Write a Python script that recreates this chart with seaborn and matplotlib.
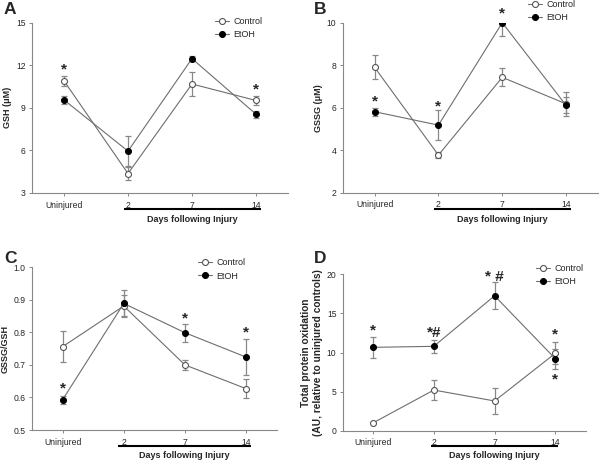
import numpy as np
import pandas as pd
import matplotlib
matplotlib.use("Agg")
import matplotlib.pyplot as plt
import matplotlib.transforms as mtransforms
import seaborn as sns

# values (mean, error)
days = ["Uninjured", "2", "7", "14"]

gsh_ctrl = [10.9, 4.37, 10.68, 9.52]
gsh_ctrl_err = [0.33, 0.47, 0.83, 0.3]
gsh_etoh = [9.56, 5.95, 12.47, 8.55]
gsh_etoh_err = [0.28, 1.08, 0.15, 0.25]

gssg_ctrl = [7.9, 3.77, 7.43, 6.18]
gssg_ctrl_err = [0.56, 0.15, 0.42, 0.58]
gssg_etoh = [5.81, 5.18, 10.0, 6.11]
gssg_etoh_err = [0.18, 0.7, 0.63, 0.38]

ratio_ctrl = [0.756, 0.881, 0.700, 0.627]
ratio_ctrl_err = [0.047, 0.035, 0.015, 0.03]
ratio_etoh = [0.593, 0.889, 0.799, 0.724]
ratio_etoh_err = [0.013, 0.04, 0.028, 0.056]

prot_ctrl = [1.0, 5.2, 3.8, 9.9]
prot_ctrl_err = [0.0, 1.3, 1.65, 1.4]
prot_etoh = [10.66, 10.79, 17.25, 9.2]
prot_etoh_err = [1.3, 0.8, 1.75, 1.3]

# significance marks: (day index, y, text)
stars_a = [(0, 11.73, "*"), (3, 10.32, "*")]
stars_b = [(0, 6.28, "*"), (1, 6.08, "*"), (2, 10.44, "*")]
stars_c = [(0, 0.627, "*"), (2, 0.842, "*"), (3, 0.80, "*")]
stars_d = [(0, 12.8, "*"), (1, 12.45, "*#"), (2, 19.7, "* #"), (3, 12.3, "*"), (3, 6.57, "*")]

sns.set_style("ticks")
plt.rcParams["font.family"] = ["Liberation Sans", "DejaVu Sans"]

W, H = 600, 461
fig = plt.figure(figsize=(6, 4.61), dpi=100)

GRAY = "#6e6e6e"
x = np.arange(len(days))


def make_ax(left, right, top, bottom):
    return fig.add_axes([left / W, 1 - bottom / H, (right - left) / W, (bottom - top) / H])


def panel(ax, ctrl, ctrl_err, etoh, etoh_err, ylim, yticks, ylabel, stars,
          letter, letter_xy, legend_xy, bar_x, bar_y, text_y, yfmt="%g", ylabel_size=6.5):
    ax.errorbar(x, ctrl, yerr=ctrl_err, fmt="none", ecolor="#888888", elinewidth=0.9,
                capsize=2.5, capthick=0.9, zorder=2)
    ax.errorbar(x, etoh, yerr=etoh_err, fmt="none", ecolor="#888888", elinewidth=0.9,
                capsize=2.5, capthick=0.9, zorder=2)
    sns.lineplot(x=x, y=ctrl, ax=ax, color=GRAY, lw=0.8, marker="o", markersize=4.3,
                 markerfacecolor="white", markeredgecolor="#555555", markeredgewidth=0.8,
                 label="Control", zorder=3)
    sns.lineplot(x=x, y=etoh, ax=ax, color=GRAY, lw=0.8, marker="o", markersize=4.3,
                 markerfacecolor="black", markeredgecolor="black",
                 label="EtOH", zorder=4)
    ax.set_xlim(-0.5, 3.5)
    ax.set_ylim(*ylim)
    ax.set_yticks(yticks)
    ax.yaxis.set_major_formatter(matplotlib.ticker.FormatStrFormatter(yfmt))
    ax.set_xticks(x)
    ax.set_xticklabels(days)
    ax.tick_params(axis="both", labelsize=6.2, length=2.5, width=0.7, color="#888888", pad=2)
    ax.tick_params(axis="x", pad=3)
    for s in ("top", "right"):
        ax.spines[s].set_visible(False)
    for s in ("left", "bottom"):
        ax.spines[s].set_color("#888888")
        ax.spines[s].set_linewidth(0.8)
    ax.set_ylabel(ylabel, fontsize=ylabel_size, fontweight="bold", labelpad=3)
    ax.set_xlabel("")
    for i, yv, t in stars:
        ax.text(i, yv, t, ha="center", va="center", fontsize=11, fontweight="bold")
    fig.text(letter_xy[0] / W, 1 - letter_xy[1] / H, letter, fontsize=12.5,
             fontweight="bold", ha="left", va="center")
    ax.legend(loc="center left", bbox_to_anchor=(legend_xy[0] / W, 1 - legend_xy[1] / H),
              bbox_transform=fig.transFigure, frameon=False, fontsize=6.5,
              handlelength=1.5, handletextpad=0.5, labelspacing=0.45,
              borderpad=0, borderaxespad=0)
    trans = mtransforms.blended_transform_factory(ax.transData, fig.transFigure)
    ax.plot(bar_x, [1 - bar_y / H] * 2, color="black", lw=1.5, transform=trans,
            clip_on=False, solid_capstyle="butt")
    ax.text(np.mean(bar_x), 1 - text_y / H, "Days following Injury", transform=trans,
            ha="center", va="center", fontsize=6.5, fontweight="bold")


ax_a = make_ax(32, 288, 22.7, 193)
panel(ax_a, gsh_ctrl, gsh_ctrl_err, gsh_etoh, gsh_etoh_err, (3, 15), [3, 6, 9, 12, 15],
      "GSH (\u03bcM)", stars_a, "A", (4, 10), (215, 28), [0.93, 3.08], 209, 219.5)

ax_b = make_ax(342.7, 598, 22.7, 192.7)
panel(ax_b, gssg_ctrl, gssg_ctrl_err, gssg_etoh, gssg_etoh_err, (2, 10), [2, 4, 6, 8, 10],
      "GSSG (\u03bcM)", stars_b, "B", (314, 10), (528, 11), [0.93, 3.08], 209.3, 219.5)

ax_c = make_ax(32, 276.7, 267.3, 430)
panel(ax_c, ratio_ctrl, ratio_ctrl_err, ratio_etoh, ratio_etoh_err, (0.5, 1.0),
      [0.5, 0.6, 0.7, 0.8, 0.9, 1.0], "GSSG/GSH", stars_c, "C", (4, 258), (198, 269.5),
      [0.9, 3.08], 446, 455.7, yfmt="%.1f")

ax_d = make_ax(342.7, 585.7, 274.3, 430.7)
panel(ax_d, prot_ctrl, prot_ctrl_err, prot_etoh, prot_etoh_err, (0, 20), [0, 5, 10, 15, 20],
      "Total protein oxidation\n(AU, relative to uninjured controls)", stars_d, "D",
      (314, 258), (536, 275), [0.95, 3.05], 446, 455.5, ylabel_size=7.3)

fig.savefig("out.png", dpi=100)
